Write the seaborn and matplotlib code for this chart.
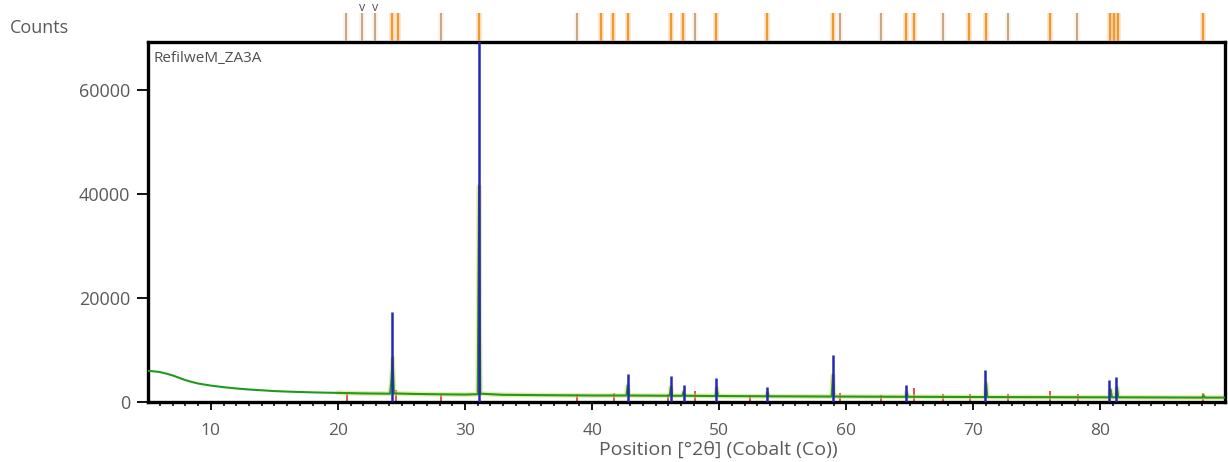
import matplotlib
matplotlib.use("Agg")
import matplotlib.pyplot as plt
import seaborn as sns
import pandas as pd

# Observed scan (green trace): position [°2θ] and counts
obs_2theta = [5.0, 5.5, 6.0, 6.5, 7.0, 7.5, 8.0, 8.5, 9.0, 10.0, 11.0, 12.0, 13.0,
              14.0, 15.0, 16.0, 18.0, 20.0, 22.0, 24.1, 24.2, 24.3, 24.4, 26.0,
              28.0, 30.0, 31.0, 31.1, 31.2, 33.0, 36.0, 40.0, 42.7, 42.8, 42.9,
              46.1, 46.2, 46.3, 47.1, 47.2, 47.3, 49.7, 49.8, 49.9, 53.7,
              53.8, 53.9, 58.85, 58.95, 59.05, 64.65, 64.75, 64.85, 70.9, 71.0, 71.1,
              80.7, 80.8, 80.9, 81.2, 81.3, 81.4, 88.0, 88.1, 88.2, 89.8]
obs_counts = [6000, 5900, 5750, 5450, 5100, 4650, 4200, 3850, 3550, 3150, 2850, 2600,
              2400, 2250, 2100, 2000, 1850, 1750, 1650, 1600, 4000, 8500, 1650, 1550,
              1480, 1430, 1500, 41500, 1600, 1380, 1320, 1250, 1250, 3200, 1250,
              1200, 2900, 1200, 1200, 2000, 1200, 1150, 2700, 1150, 1100,
              1800, 1100, 1050, 5200, 1050, 1000, 1900, 1000, 950, 3600, 950,
              900, 2400, 900, 900, 2800, 900, 850, 1300, 850, 850]

# Calculated reflections (blue peaks)
calc_pos = [24.25, 31.1, 42.8, 46.2, 47.2, 49.75, 53.75, 58.95, 64.7, 70.95, 80.65, 81.25]
calc_height = [17300, 70000, 5400, 5000, 3300, 4600, 2900, 9100, 3300, 6200, 4300, 4800]

# Second phase / difference reflections (red)
red_pos = [20.7, 24.6, 28.1, 38.8, 41.7, 46.0, 48.1, 52.4, 59.5, 62.7, 65.3, 67.6,
           69.7, 72.75, 76.05, 78.2, 80.75, 88.05]
red_height = [2000, 2300, 1600, 1500, 1700, 1600, 2100, 1300, 1700, 1400, 2600, 1500,
              1600, 1500, 2100, 1500, 1900, 1800]

# Reference pattern positions shown in the strip above the plot
ref_orange = [24.28, 24.75, 31.13, 40.73, 41.67, 42.8, 46.23, 47.17, 49.77, 53.78,
              58.97, 64.72, 65.3, 69.68, 71.01, 76.05, 80.77, 81.08, 81.40, 88.09]
ref_tan = [20.66, 21.92, 22.94, 28.14, 38.84, 48.12, 59.52, 62.75, 67.63, 72.75, 78.17]
ref_marked = [21.92, 22.94]

x_ticks = [10, 20, 30, 40, 50, 60, 70, 80]
y_ticks = [0, 20000, 40000, 60000]
y_tick_labels = ["0", "20000", "40000", "60000"]

sns.set_theme(style="white")
plt.rcParams["font.family"] = ["Open Sans", "DejaVu Sans"]

W, H = 1228, 462
fig = plt.figure(figsize=(W / 100, H / 100), dpi=100)

ax_l, ax_r, ax_t, ax_b = 148, 1225, 42, 402
ax = fig.add_axes([ax_l / W, 1 - ax_b / H, (ax_r - ax_l) / W, (ax_b - ax_t) / H])

obs = pd.DataFrame({"pos": obs_2theta, "counts": obs_counts})

# Red reflections underneath everything else
ax.vlines(red_pos, 0, red_height, color="#e8504a", lw=1.4, zorder=2)

# Background band along the baseline
sns.lineplot(data=obs[obs["pos"] >= 20], x="pos", y="counts", sort=False, estimator=None,
             color="#d9d96a", lw=3.5, alpha=0.55, ax=ax, zorder=2)

# Observed scan
sns.lineplot(data=obs, x="pos", y="counts", sort=False, estimator=None,
             color="#1f9a1f", lw=1.5, ax=ax, zorder=3)

# Calculated reflections
ax.vlines(calc_pos, 0, calc_height, color="#2626b8", lw=1.8, zorder=4)

ax.set_xlim(5.05, 89.8)
ax.set_ylim(0, 69200)

ax.set_xticks(x_ticks)
ax.set_xticks(range(6, 90), minor=True)
ax.set_yticks(y_ticks)
ax.set_yticklabels(y_tick_labels)

label_color = "#5a5a5a"
ax.tick_params(axis="x", which="major", direction="out", length=6, width=1.3,
               color="black", labelsize=12.5, labelcolor=label_color, pad=9, bottom=True)
ax.tick_params(axis="x", which="minor", direction="out", length=3, width=1.1,
               color="black", bottom=True)
ax.tick_params(axis="y", which="major", direction="out", length=8, width=1.3,
               color="black", labelsize=13, labelcolor=label_color, pad=5, left=True)

for side in ax.spines.values():
    side.set_visible(True)
    side.set_color("black")
    side.set_linewidth(2.4)

ax.set_xlabel("Position [°2θ] (Cobalt (Co))", fontsize=14, color=label_color)
ax.xaxis.set_label_coords((718 - ax_l) / (ax_r - ax_l), -0.133)
ax.xaxis.label.set_va("center")
ax.set_ylabel("")

ax.text(0.005, 0.975, "RefilweM_ZA3A", transform=ax.transAxes, ha="left", va="top",
        fontsize=11, color="#505050")

fig.text(10 / W, 1 - 28 / H, "Counts", ha="left", va="center", fontsize=13,
         color=label_color)

# Reference strip above the frame
strip = fig.add_axes([ax_l / W, 1 - 41 / H, (ax_r - ax_l) / W, 28 / H])
strip.set_xlim(ax.get_xlim())
strip.set_ylim(0, 1)
strip.axis("off")
strip.vlines(ref_orange, 0, 1, color="#f5ad5a", lw=4, alpha=0.35)
strip.vlines(ref_orange, 0, 1, color="#ee9a34", lw=1.6)
strip.vlines(ref_tan, 0, 1, color="#f2d6b4", lw=4, alpha=0.35)
strip.vlines(ref_tan, 0, 1, color="#c0a080", lw=1.3)
for p in ref_marked:
    strip.text(p, 0.95, "v", ha="center", va="bottom", fontsize=9, color="#555555")

fig.savefig("out.png", dpi=100, facecolor="white")
